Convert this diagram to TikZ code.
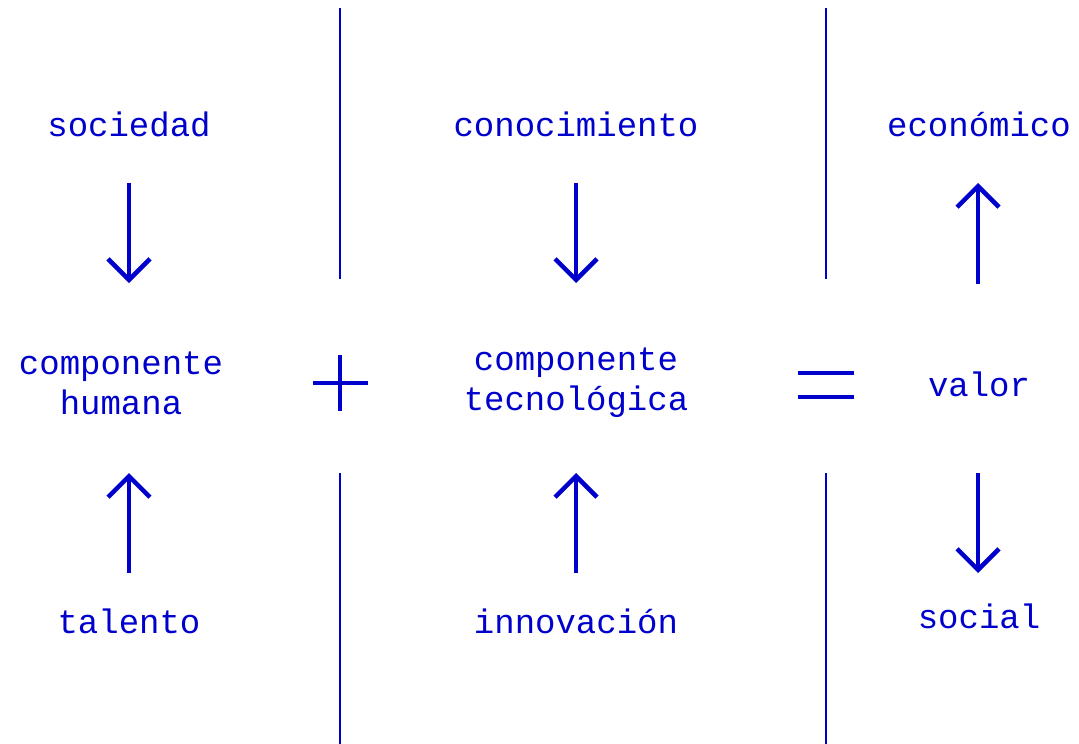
\documentclass[tikz,border=0pt]{standalone}
\usepackage{fontspec}
\setmonofont{Liberation Mono}
\usetikzlibrary{arrows.meta}
\definecolor{ink}{RGB}{0,0,204}
\tikzset{
  lbl/.style={font=\ttfamily\fontsize{34}{40}\selectfont, text=ink, align=center, inner sep=0pt},
  sep/.style={draw=ink, line width=2pt},
  flow/.style={draw=ink, line width=4.5pt, -{Straight Barb[length=21pt,width=42pt,line width=4.5pt]}},
  op/.style={draw=ink, line width=4pt}
}
\begin{document}
\begin{tikzpicture}[x=1pt,y=-1pt]
\useasboundingbox (0,0) rectangle (1079,744);
% separators
\coordinate (s1a) at (340,8);   \coordinate (s1b) at (340,279);
\coordinate (s1c) at (340,473); \coordinate (s1d) at (340,744);
\coordinate (s2a) at (826,8);   \coordinate (s2b) at (826,279);
\coordinate (s2c) at (826,473); \coordinate (s2d) at (826,744);
\draw[sep] (s1a) -- (s1b); \draw[sep] (s1c) -- (s1d);
\draw[sep] (s2a) -- (s2b); \draw[sep] (s2c) -- (s2d);
% labels
\node[lbl] (soc) at (129,124) {sociedad};
\node[lbl] (con) at (576,124) {conocimiento};
\node[lbl] (eco) at (979,124) {económico};
\node[lbl] (hum) at (121,383) {componente\\humana};
\node[lbl] (tec) at (576,383) {componente\\tecnológica};
\node[lbl] (val) at (979,384) {valor};
\node[lbl] (tal) at (129,621) {talento};
\node[lbl] (inn) at (576,621) {innovación};
\node[lbl] (socl) at (979,616) {social};
% arrow ends
\coordinate (a1s) at (129,183); \coordinate (a1e) at (129,283);
\coordinate (a2s) at (576,183); \coordinate (a2e) at (576,283);
\coordinate (a3s) at (978,284); \coordinate (a3e) at (978,183);
\coordinate (b1s) at (129,573); \coordinate (b1e) at (129,473);
\coordinate (b2s) at (576,573); \coordinate (b2e) at (576,473);
\coordinate (b3s) at (978,473); \coordinate (b3e) at (978,573);
\draw[flow] (a1s) -- (a1e);
\draw[flow] (a2s) -- (a2e);
\draw[flow] (a3s) -- (a3e);
\draw[flow] (b1s) -- (b1e);
\draw[flow] (b2s) -- (b2e);
\draw[flow] (b3s) -- (b3e);
% plus
\coordinate (pl) at (313,383); \coordinate (pr) at (368,383);
\coordinate (pt) at (340,355); \coordinate (pb) at (340,411);
\draw[op] (pl) -- (pr); \draw[op] (pt) -- (pb);
% equals
\coordinate (e1l) at (798,373); \coordinate (e1r) at (854,373);
\coordinate (e2l) at (798,397); \coordinate (e2r) at (854,397);
\draw[op] (e1l) -- (e1r); \draw[op] (e2l) -- (e2r);
\end{tikzpicture}
\end{document}
